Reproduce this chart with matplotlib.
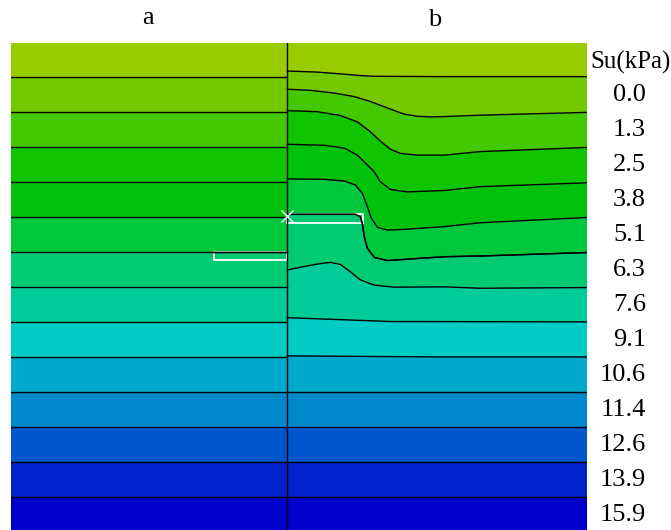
import numpy as np
import matplotlib.pyplot as plt
from matplotlib.patches import Rectangle

###### DATA ######
# depth in band units (band boundaries on the left side sit at 1..13)
su_labels = ["0.0", "1.3", "2.5", "3.8", "5.1", "6.3", "7.6", "9.1",
             "10.6", "11.4", "12.6", "13.9", "15.9"]
band_colors = ["#99CC00", "#73C800", "#44C800", "#10C400", "#00C20C", "#00C83C", "#00CB72",
               "#00CC99", "#00CCC6", "#00AACC", "#0088CC", "#0056CC", "#0022CC", "#0000CC"]
left_levels = list(range(1, 14))

# right side (b) contour lines, traced: x offset from centre line, depth
right_lines = [
    ([0, 30, 57, 73, 87, 157, 300],
     [0.84, 0.87, 0.93, 0.97, 0.99, 1.0, 1.0]),
    ([0, 23, 47, 67, 83, 97, 107, 117, 130, 143, 157, 193, 300],
     [1.36, 1.39, 1.47, 1.57, 1.71, 1.86, 1.97, 2.07, 2.13, 2.15, 2.14, 2.10, 2.02]),
    ([0, 30, 53, 70, 83, 93, 103, 113, 130, 157, 193, 300],
     [1.97, 2.00, 2.11, 2.29, 2.57, 2.84, 3.07, 3.19, 3.24, 3.24, 3.14, 3.02]),
    ([0, 37, 57, 70, 80, 87, 93, 103, 120, 157, 193, 300],
     [2.93, 2.96, 3.04, 3.24, 3.52, 3.72, 4.00, 4.22, 4.29, 4.25, 4.14, 4.03]),
    ([0, 37, 57, 68, 75, 80, 84, 90, 100, 117, 157, 193, 300],
     [3.92, 3.93, 3.98, 4.09, 4.33, 4.71, 5.04, 5.30, 5.38, 5.36, 5.28, 5.17, 5.02]),
    ([0, 68, 73, 75, 77, 80, 87, 100, 120, 157, 193, 300],
     [4.93, 4.93, 5.00, 5.19, 5.57, 5.90, 6.16, 6.25, 6.21, 6.14, 6.12, 6.02]),
    ([0, 13, 30, 43, 53, 63, 73, 87, 107, 157, 193, 300],
     [6.52, 6.44, 6.35, 6.30, 6.36, 6.57, 6.80, 6.95, 7.01, 7.00, 7.04, 7.02]),
    ([0, 104, 300], [7.88, 7.99, 8.0]),
    ([0, 150, 300], [8.97, 9.0, 9.0]),
    ([0, 300], [10.0, 10.0]),
    ([0, 300], [11.0, 11.0]),
    ([0, 300], [12.0, 12.0]),
    ([0, 300], [13.0, 13.0]),
]

x_left = -276.3
x_right = 300.0
y_top = 0.04
y_bot = 13.94

###### PLOT ######
fig = plt.figure(figsize=(6.71, 5.30), dpi=100)
ax = fig.add_axes([11 / 671, 0, (587.3 - 11) / 671, 1 - 43 / 530])
ax.set_xlim(x_left, x_right)
ax.set_ylim(y_bot, y_top)
ax.axis("off")

# left half: flat bands
bounds = [-1] + left_levels + [15]
for k in range(14):
    ax.fill_between([x_left, 0], bounds[k], bounds[k + 1], color=band_colors[k], lw=0)
for lv in left_levels:
    ax.plot([x_left, 0], [lv, lv], color="black", lw=1.0)

# right half: bands between traced lines
edges = [([0, x_right], [-1, -1])] + right_lines + [([0, x_right], [15, 15])]
for k in range(14):
    xa, ya = edges[k]
    xb, yb = edges[k + 1]
    px = list(xa) + list(xb)[::-1]
    py = list(ya) + list(yb)[::-1]
    ax.fill(px, py, color=band_colors[k], lw=0)
for xs, ys in right_lines:
    ax.plot(xs, ys, color="black", lw=1.0, solid_joinstyle="round")

# centre line
ax.plot([0, 0], [y_top, y_bot], color="black", lw=1.0)

# anchors (white outlines)
ax.add_patch(Rectangle((-73, 6.0), 73, 0.24, fill=False, edgecolor="white", lw=1.3))
ax.plot([-73, 0], [6.0, 6.0], color="black", lw=1.0)
ax.add_patch(Rectangle((0, 4.93), 75.7, 0.25, fill=False, edgecolor="white", lw=1.3))
ax.plot(right_lines[5][0], right_lines[5][1], color="black", lw=1.0, solid_joinstyle="round")
ax.plot([0], [4.98], marker="x", color="white", ms=8, mew=1.0)

# legend text
ax.text(302.7, 0.6, "Su(kPa)", ha="left", va="center", fontsize=18,
        family="Liberation Serif", clip_on=False)
for i, lab in enumerate(su_labels):
    ax.text(358.7, i + 1.52, lab, ha="right", va="center", fontsize=19,
            family="Liberation Serif", clip_on=False)

fig.text(148 / 671, 1 - 18 / 530, "a", ha="center", va="center", fontsize=19, family="Liberation Serif")
fig.text(435 / 671, 1 - 20 / 530, "b", ha="center", va="center", fontsize=19, family="Liberation Serif")

fig.savefig("out.png", dpi=100)
